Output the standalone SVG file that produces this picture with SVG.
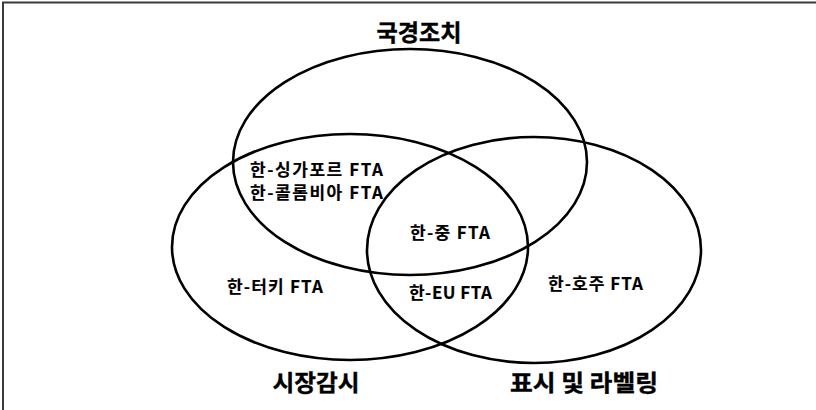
<svg xmlns="http://www.w3.org/2000/svg" width="816" height="410" viewBox="0 0 816 410">
<style>
.frame{stroke:#3a3a3a;stroke-width:2;fill:none}
.set{fill:none;stroke:#000;stroke-width:2.6}
.title{font-family:"Noto Sans CJK KR","Noto Sans",sans-serif;font-weight:bold;font-size:23px;fill:#000;stroke:#000;stroke-width:0.4;text-anchor:middle}
.lbl{font-family:"Noto Sans CJK KR","Noto Sans",sans-serif;font-weight:bold;font-size:17px;fill:#000;stroke:#000;stroke-width:0.15}
</style>
<rect width="816" height="410" fill="#fff"/>
<path class="frame" d="M3,410 V2.5 H816"/>
<g id="set-border">
<ellipse class="set" cx="410" cy="162" rx="177" ry="113"/>
<text class="title" x="419" y="41" textLength="85" lengthAdjust="spacingAndGlyphs">국경조치</text>
</g>
<g id="set-market">
<ellipse class="set" cx="350" cy="247" rx="178" ry="113"/>
<text class="title" x="316" y="391" textLength="87" lengthAdjust="spacingAndGlyphs">시장감시</text>
</g>
<g id="set-label">
<ellipse class="set" cx="534" cy="250" rx="167" ry="113"/>
<text class="title" x="584" y="391" textLength="148" lengthAdjust="spacingAndGlyphs">표시 및 라벨링</text>
</g>
<g id="fta-sg-co">
<text class="lbl" x="250" y="176" textLength="133" lengthAdjust="spacing">한-싱가포르 FTA</text>
<text class="lbl" x="250" y="199" textLength="133" lengthAdjust="spacing">한-콜롬비아 FTA</text>
</g>
<g id="fta-cn"><text class="lbl" x="410" y="239" textLength="80" lengthAdjust="spacing">한-중 FTA</text></g>
<g id="fta-tr"><text class="lbl" x="227" y="293" textLength="96" lengthAdjust="spacing">한-터키 FTA</text></g>
<g id="fta-eu"><text class="lbl" x="409" y="299" textLength="83" lengthAdjust="spacing">한-EU FTA</text></g>
<g id="fta-au"><text class="lbl" x="548" y="290" textLength="95" lengthAdjust="spacing">한-호주 FTA</text></g>
<g id="connectors"></g>
</svg>
